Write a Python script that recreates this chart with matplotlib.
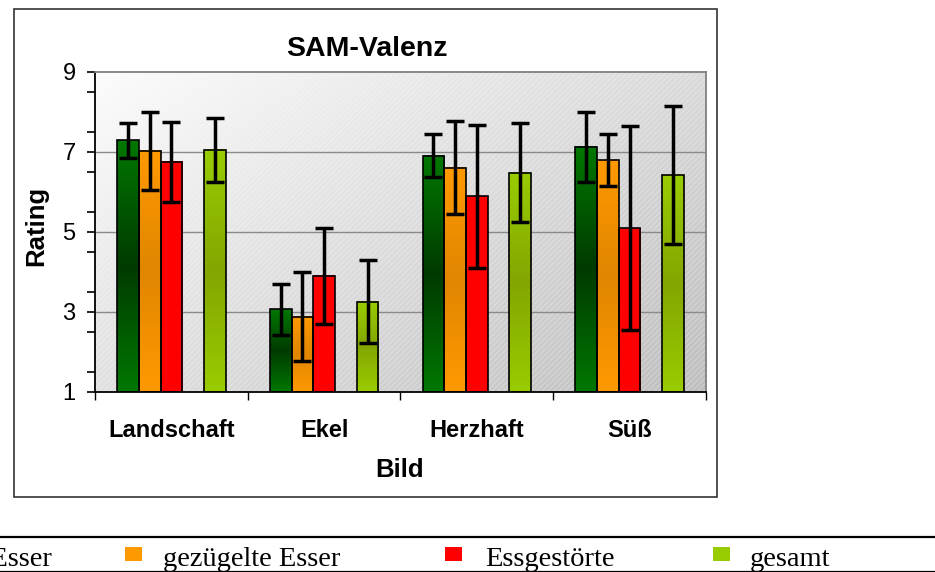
import numpy as np
import matplotlib
matplotlib.use('Agg')
from matplotlib import pyplot as plt
from matplotlib.patches import Rectangle
from matplotlib.lines import Line2D
from matplotlib.colors import LinearSegmentedColormap

plt.rcParams['font.family'] = ['Liberation Sans', 'DejaVu Sans']

categories = ['Landschaft', 'Ekel', 'Herzhaft', 'Süß']
series = ['normale Esser', 'gezügelte Esser', 'Essgestörte', 'gesamt']
means = [
    [7.29, 3.07, 6.91, 7.13],
    [7.03, 2.88, 6.61, 6.80],
    [6.76, 3.91, 5.89, 5.10],
    [7.06, 3.26, 6.48, 6.42],
]
errors = [
    [0.43, 0.64, 0.53, 0.88],
    [0.98, 1.11, 1.17, 0.64],
    [1.00, 1.20, 1.78, 2.55],
    [0.80, 1.03, 1.24, 1.73],
]
# top/bottom colour and colour in the middle of each bar
col_edge = ['#007800', '#ff9900', '#ff0000', '#99cc00']
col_mid = ['#003a00', '#e08600', '#ff0000', '#83a600']
y_ticks = [1, 3, 5, 7, 9]

W, H = 935, 572
fig = plt.figure(figsize=(W / 100, H / 100), dpi=100)
ax = fig.add_axes([95 / W, 1 - 392 / H, (706 - 95) / W, (392 - 72) / H])

ymin, ymax = 1, 9

# plot area background: diagonal grey gradient with faint hatching
gx, gy = np.meshgrid(np.linspace(0, 1, 300), np.linspace(1, 0, 300))
g = (252 - 62 * (0.55 * gx + 0.45 * (1 - gy))) / 255
ax.imshow(np.dstack([g, g, g]), extent=[0, 1, 0, 1], transform=ax.transAxes,
          aspect='auto', zorder=0, interpolation='bilinear')
plt.rcParams['hatch.linewidth'] = 0.6
ax.add_patch(Rectangle((0, 0), 1, 1, transform=ax.transAxes, facecolor='none',
                       edgecolor=(1, 1, 1, 0.35), hatch='//////', lw=0, zorder=0.5))

for y in y_ticks[1:-1]:
    ax.axhline(y, color='#8a8a8a', lw=1, zorder=1)

w = 0.142
offsets = [-2, -1, 0, 2]
x = np.arange(len(categories)) + 0.5

for s in range(len(series)):
    xs = x + offsets[s] * w
    heights = np.array(means[s]) - ymin
    bars = ax.bar(xs, heights, w, bottom=ymin, facecolor='none',
                  edgecolor='black', lw=1.2, zorder=3)
    cmap = LinearSegmentedColormap.from_list(
        'g%d' % s, [col_edge[s], col_mid[s], col_edge[s]])
    grad = np.linspace(0, 1, 200).reshape(-1, 1)
    for b in bars:
        x0, y0 = b.get_x(), b.get_y()
        ax.imshow(grad, cmap=cmap, extent=[x0, x0 + b.get_width(), y0, y0 + b.get_height()],
                  aspect='auto', origin='upper', zorder=2, interpolation='bilinear')
    ax.errorbar(xs, means[s], yerr=errors[s], fmt='none', ecolor='black',
                elinewidth=2.5, capsize=6.5, capthick=2.5, zorder=4)

ax.set_xlim(0, len(categories))
ax.set_ylim(ymin, ymax)

ax.set_yticks(y_ticks)
ax.set_yticks(np.arange(1.5, 9, 1.0), minor=True)
ax.tick_params(axis='y', which='both', direction='out', length=6, width=1.2,
               labelsize=17, pad=8)
ax.set_xticks(np.arange(len(categories) + 1))
ax.set_xticklabels([])
ax.tick_params(axis='x', direction='out', length=6, width=1.0)

for i, c in enumerate(categories):
    ax.text(x[i], (392 - 437) / 320, c, transform=ax.get_xaxis_transform(),
            ha='center', va='baseline', fontsize=17, fontweight='bold')

ax.spines['left'].set_linewidth(1.3)
ax.spines['bottom'].set_linewidth(1.3)
for sp in ['top', 'right']:
    ax.spines[sp].set_color('#808080')
    ax.spines[sp].set_linewidth(1.3)

fig.text(367 / W, 1 - 56 / H, 'SAM-Valenz', ha='center', va='baseline',
         fontsize=20.5, fontweight='bold')
fig.text(36 / W, 1 - 226 / H, 'Rating', ha='center', va='center', rotation=90,
         fontsize=18.5, fontweight='bold')
fig.text(400 / W, 1 - 477 / H, 'Bild', ha='center', va='baseline',
         fontsize=18.5, fontweight='bold')

# frame around the chart
fig.add_artist(Rectangle((14 / W, 1 - 497 / H), (717 - 14) / W, (497 - 9) / H,
                         transform=fig.transFigure, facecolor='none',
                         edgecolor='#333333', lw=1.2))

# legend row below the chart
fig.add_artist(Line2D([0, 1], [1 - 537 / H] * 2, transform=fig.transFigure,
                      color='black', lw=1.6))
fig.add_artist(Line2D([0, 1], [1 - 571 / H] * 2, transform=fig.transFigure,
                      color='black', lw=0.9))
marker_x = [-148, 125, 445, 713]
label_x = [-110, 163, 485, 750]
for s in range(len(series)):
    fig.add_artist(Rectangle((marker_x[s] / W, 1 - 561 / H), 17 / W, 14 / H,
                             transform=fig.transFigure, facecolor=col_edge[s],
                             edgecolor='none'))
    fig.text(label_x[s] / W, 1 - 566 / H, series[s], ha='left', va='baseline',
             fontsize=20.5, family=['Liberation Serif', 'DejaVu Serif'])

fig.savefig('out.png', dpi=100)
